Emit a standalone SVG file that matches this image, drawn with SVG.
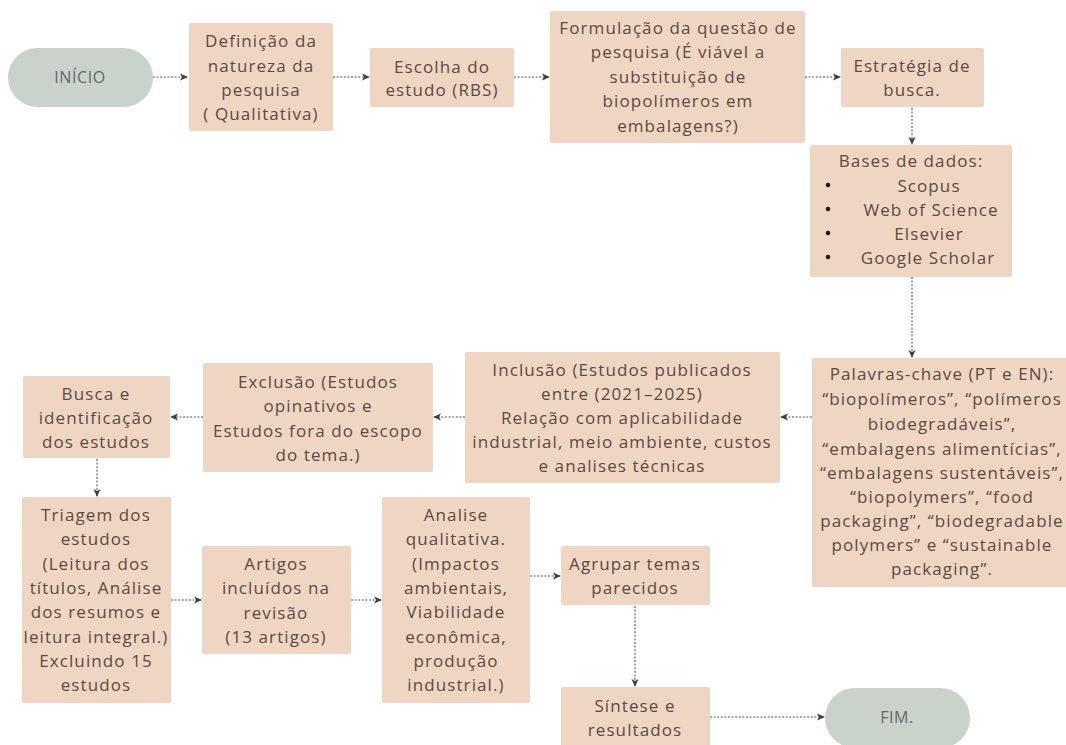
<svg xmlns="http://www.w3.org/2000/svg" width="1066" height="745" viewBox="0 0 1066 745">
<style>
.box{fill:#EED6C3;}
.pill{fill:#C9D3CB;}
text{font-family:"Open Sans","Liberation Sans",sans-serif;font-size:17px;letter-spacing:1.1px;fill:#5c4a43;text-anchor:middle;dominant-baseline:central;}
.pt{fill:#666666;font-size:16px;letter-spacing:0.6px;}
.con{fill:none;stroke:#8c8c8c;stroke-width:1.6;stroke-dasharray:2 1.6;marker-end:url(#ah);}
</style>
<defs>
<marker id="ah" viewBox="0 0 8 8" refX="7" refY="4" markerWidth="8" markerHeight="8" markerUnits="userSpaceOnUse" orient="auto">
<path d="M0,0.5 L8,4 L0,7.5 L2,4 z" fill="#3f3f3f"/>
</marker>
</defs>
<rect width="1066" height="745" fill="#ffffff"/>
<g id="connectors">
<line class="con" x1="153" y1="77" x2="187" y2="77"/>
<line class="con" x1="333" y1="77" x2="369" y2="77"/>
<line class="con" x1="514" y1="77" x2="549" y2="77"/>
<line class="con" x1="805" y1="77" x2="840" y2="77"/>
<line class="con" x1="912" y1="108" x2="912" y2="144"/>
<line class="con" x1="912" y1="277" x2="912" y2="357"/>
<line class="con" x1="812" y1="417" x2="781" y2="417"/>
<line class="con" x1="465" y1="417" x2="434" y2="417"/>
<line class="con" x1="203" y1="417" x2="171" y2="417"/>
<line class="con" x1="97" y1="459" x2="97" y2="496"/>
<line class="con" x1="171" y1="600" x2="201" y2="600"/>
<line class="con" x1="351" y1="600" x2="381" y2="600"/>
<line class="con" x1="530" y1="576" x2="560" y2="576"/>
<line class="con" x1="635" y1="606" x2="635" y2="686"/>
<line class="con" x1="710" y1="717" x2="824" y2="717"/>
</g>
<g id="inicio">
<rect class="pill" x="8" y="48" width="145" height="59" rx="29.5"/>
<text class="pt" x="80" y="77">INÍCIO</text>
</g>
<g id="definicao">
<rect class="box" x="189" y="23" width="144" height="108" rx="2"/>
<text x="261" y="40">Definição da</text>
<text x="261" y="65">natureza da</text>
<text x="261" y="89">pesquisa</text>
<text x="261" y="113">( Qualitativa)</text>
</g>
<g id="escolha">
<rect class="box" x="370" y="48" width="144" height="59" rx="2"/>
<text x="442" y="66">Escolha do</text>
<text x="442" y="89">estudo (RBS)</text>
</g>
<g id="formulacao">
<rect class="box" x="550" y="11" width="255" height="132" rx="2"/>
<text x="678" y="27">Formulação da questão de</text>
<text x="678" y="51">pesquisa (É viável a</text>
<text x="678" y="76">substituição de</text>
<text x="678" y="100">biopolímeros em</text>
<text x="678" y="125">embalagens?)</text>
</g>
<g id="estrategia">
<rect class="box" x="841" y="48" width="143" height="59" rx="2"/>
<text x="912" y="65">Estratégia de</text>
<text x="912" y="89">busca.</text>
</g>
<g id="bases">
<rect class="box" x="810" y="145" width="202" height="132" rx="2"/>
<text x="911" y="160">Bases de dados:</text>
<circle cx="828" cy="185" r="2.3" fill="#1a1a1a"/>
<circle cx="828" cy="209" r="2.3" fill="#1a1a1a"/>
<circle cx="828" cy="233" r="2.3" fill="#1a1a1a"/>
<circle cx="828" cy="257" r="2.3" fill="#1a1a1a"/>
<text x="929" y="185">Scopus</text>
<text x="931" y="209">Web of Science</text>
<text x="929" y="233">Elsevier</text>
<text x="928" y="257">Google Scholar</text>
</g>
<g id="palavras">
<rect class="box" x="812" y="358" width="256" height="229" rx="2"/>
<text x="942" y="373">Palavras-chave (PT e EN):</text>
<text x="942" y="398">“biopolímeros”, “polímeros</text>
<text x="942" y="423">biodegradáveis”,</text>
<text x="942" y="448">“embalagens alimentícias”,</text>
<text x="942" y="472">“embalagens sustentáveis”,</text>
<text x="942" y="496">“biopolymers”, “food</text>
<text x="942" y="520">packaging”, “biodegradable</text>
<text x="942" y="544">polymers” e “sustainable</text>
<text x="942" y="568">packaging”.</text>
</g>
<g id="inclusao">
<rect class="box" x="465" y="352" width="315" height="131" rx="2"/>
<text x="622" y="369">Inclusão (Estudos publicados</text>
<text x="622" y="393">entre (2021–2025)</text>
<text x="622" y="417">Relação com aplicabilidade</text>
<text x="622" y="441">industrial, meio ambiente, custos</text>
<text x="622" y="465">e analises técnicas</text>
</g>
<g id="exclusao">
<rect class="box" x="203" y="363" width="230" height="109" rx="2"/>
<text x="318" y="381">Exclusão (Estudos</text>
<text x="318" y="405">opinativos e</text>
<text x="318" y="430">Estudos fora do escopo</text>
<text x="318" y="454">do tema.)</text>
</g>
<g id="busca">
<rect class="box" x="23" y="376" width="147" height="82" rx="2"/>
<text x="96" y="393">Busca e</text>
<text x="96" y="417">identificação</text>
<text x="96" y="441">dos estudos</text>
</g>
<g id="triagem">
<rect class="box" x="22" y="497" width="149" height="206" rx="2"/>
<text x="96" y="514">Triagem dos</text>
<text x="96" y="538">estudos</text>
<text x="96" y="563">(Leitura dos</text>
<text x="96" y="587">títulos, Análise</text>
<text x="96" y="611">dos resumos e</text>
<text x="96" y="636">leitura integral.)</text>
<text x="96" y="660">Excluindo 15</text>
<text x="96" y="684">estudos</text>
</g>
<g id="artigos">
<rect class="box" x="202" y="546" width="149" height="108" rx="2"/>
<text x="276" y="563">Artigos</text>
<text x="276" y="587">incluídos na</text>
<text x="276" y="612">revisão</text>
<text x="276" y="636">(13 artigos)</text>
</g>
<g id="analise">
<rect class="box" x="382" y="497" width="148" height="206" rx="2"/>
<text x="456" y="514">Analise</text>
<text x="456" y="538">qualitativa.</text>
<text x="456" y="563">(Impactos</text>
<text x="456" y="587">ambientais,</text>
<text x="456" y="611">Viabilidade</text>
<text x="456" y="636">econômica,</text>
<text x="456" y="660">produção</text>
<text x="456" y="684">industrial.)</text>
</g>
<g id="agrupar">
<rect class="box" x="561" y="546" width="149" height="59" rx="2"/>
<text x="635" y="563">Agrupar temas</text>
<text x="635" y="587">parecidos</text>
</g>
<g id="sintese">
<rect class="box" x="561" y="687" width="149" height="62" rx="2"/>
<text x="635" y="705">Síntese e</text>
<text x="635" y="729">resultados</text>
</g>
<g id="fim">
<rect class="pill" x="825" y="688" width="145" height="60" rx="30"/>
<text class="pt" x="897" y="717">FIM.</text>
</g>
</svg>
